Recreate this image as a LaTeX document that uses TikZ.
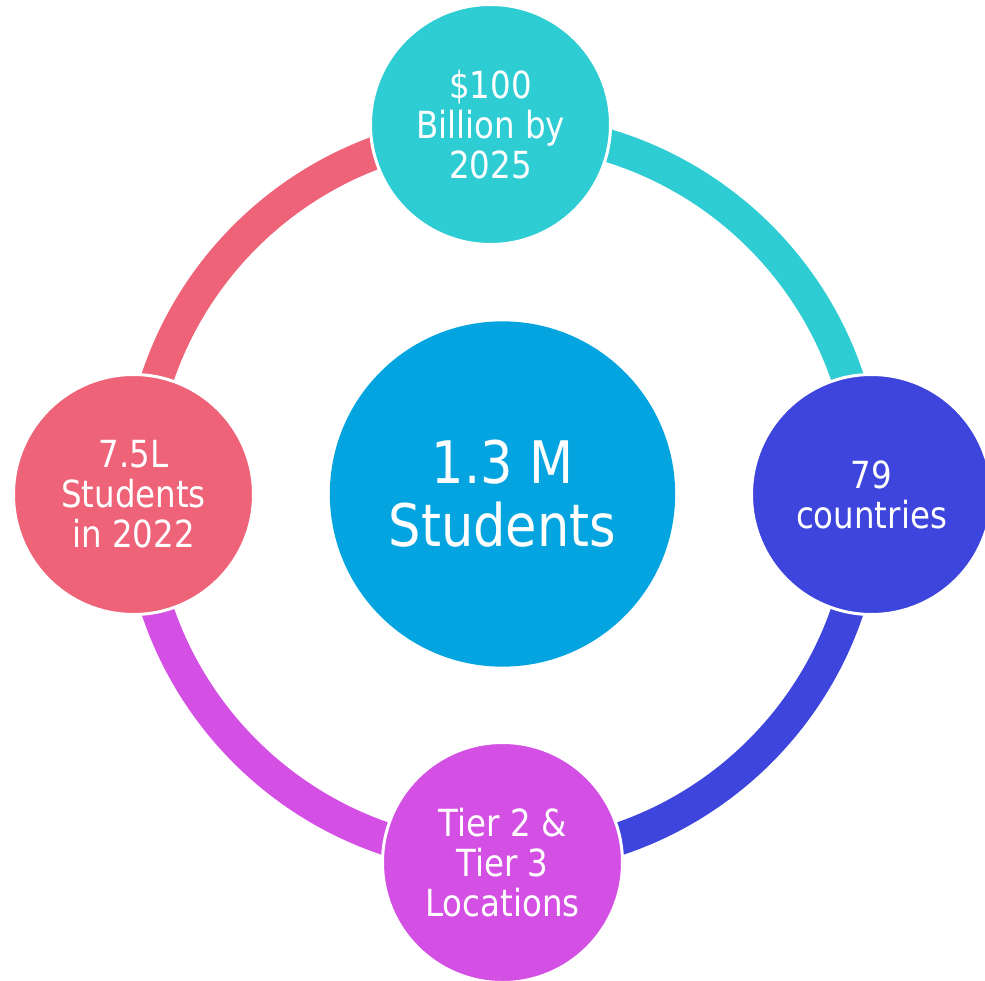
\documentclass[tikz,border=0pt]{standalone}
\usepackage{fontspec}
\newfontfamily\labelfont[FakeStretch=0.87]{DejaVu Sans}

\definecolor{hubblue}{HTML}{03A4E0}
\definecolor{ringteal}{HTML}{2ECCD3}
\definecolor{ringblue}{HTML}{3D45DD}
\definecolor{ringmagenta}{HTML}{D450E4}
\definecolor{ringrose}{HTML}{EF6379}

\begin{document}
\begin{tikzpicture}[x=0.75pt,y=-0.75pt,
  ringarc/.style={line width=24.5pt},
  sat/.style={circle, draw=white, line width=2.25pt, minimum size=180pt,
    inner sep=0pt, text=white, align=center,
    font=\labelfont\fontsize{28pt}{30pt}\selectfont},
  hub/.style={circle, fill=hubblue, minimum size=259pt, inner sep=0pt,
    text=white, align=center,
    font=\labelfont\fontsize{44pt}{47.3pt}\selectfont}]

  \useasboundingbox (0,0) rectangle (985,981);

  % joints of the ring (radius 364 around the hub)
  \coordinate (rt) at (502.5,130);
  \coordinate (rr) at (866.5,494);
  \coordinate (rb) at (502.5,858);
  \coordinate (rl) at (138.5,494);

  % coloured quarter arcs of the ring
  \draw[ringarc, ringteal]    (rt) arc[start angle=-90, end angle=0,   radius=364];
  \draw[ringarc, ringblue]    (rr) arc[start angle=0,   end angle=90,  radius=364];
  \draw[ringarc, ringmagenta] (rb) arc[start angle=90,  end angle=180, radius=364];
  \draw[ringarc, ringrose]    (rl) arc[start angle=180, end angle=270, radius=364];

  % satellite circles
  \node[sat, fill=ringteal]    (top)    at (490.5,124.5) {\$100\\Billion by\\2025};
  \node[sat, fill=ringblue]    (right)  at (871.5,494.5) {79\\countries};
  \node[sat, fill=ringmagenta] (bottom) at (502.5,862.5) {Tier 2 \&\\Tier 3\\Locations};
  \node[sat, fill=ringrose]    (left)   at (133.5,494.5) {7.5L\\Students\\in 2022};

  % central circle
  \node[hub] (hub) at (502.5,494) {1.3 M\\Students};
\end{tikzpicture}
\end{document}
